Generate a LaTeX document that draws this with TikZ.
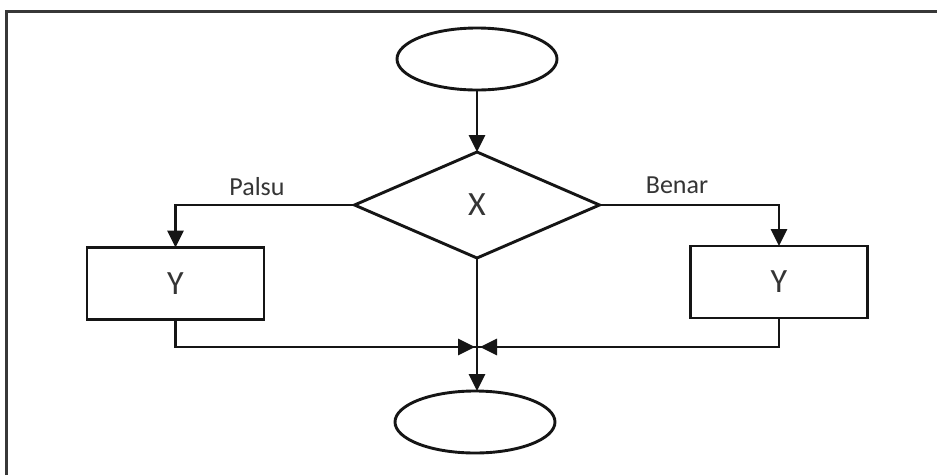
\documentclass[tikz,border=0pt]{standalone}
\usepackage{fontspec}
\setmainfont{Carlito}
\usetikzlibrary{shapes.geometric,arrows.meta}
\definecolor{ink}{HTML}{151515}
\definecolor{txt}{HTML}{353535}
\begin{document}
\begin{tikzpicture}[x=1pt,y=-1pt,
  every node/.style={inner sep=0pt,outer sep=0pt},
  flowline/.style={draw=ink,line width=2.9pt},
  flowarrow/.style={flowline,-{Triangle[length=17pt,width=16pt]}},
  terminal/.style={ellipse,draw=ink,line width=2.9pt,minimum width=160pt,minimum height=62pt},
  decision/.style={diamond,draw=ink,line width=2.9pt,minimum width=245pt,minimum height=106pt,font=\fontsize{34}{34}\selectfont,text=txt},
  process/.style={rectangle,draw=ink,line width=2.9pt,minimum width=177pt,minimum height=72pt,font=\fontsize{34}{34}\selectfont,text=txt},
  branchlabel/.style={font=\fontsize{26}{26}\selectfont,text=txt}]
  % canvas and frame
  \fill[white] (0,0) rectangle (937,475);
  \useasboundingbox (0,0) rectangle (937,475);
  \draw[draw=ink!85,line width=2.4pt] (6.5,475) -- (6.5,11.5) -- (937,11.5);

  % nodes
  \node[terminal] (start) at (477,59) {};
  \node[decision] (x) at (477,205) {X};
  \node[process] (yl) at (175.5,283.5) {Y};
  \node[process] (yr) at (779,282) {Y};
  \node[terminal] (end) at (475,422) {};
  \coordinate (m) at (477,347);
  \coordinate (ml) at (475,347);
  \coordinate (mr) at (480,347);

  % connectors
  \draw[flowarrow] (start) -- (x.north);
  \draw[flowarrow] (x.west) -| (yl.north);
  \draw[flowarrow] (x.east) -| (yr.north);
  \draw[flowline] (yl.south) |- (m);
  \draw[flowline] (yr.south) |- (m);
  \draw[flowarrow] (yl.south |- m) -- (ml);
  \draw[flowarrow] (yr.south |- m) -- (mr);
  \draw[flowarrow] (x.south) -- (end.north -| x.south);

  % branch labels
  \node[branchlabel] (palsu) at (257,187) {Palsu};
  \node[branchlabel] (benar) at (677,185) {Benar};
\end{tikzpicture}
\end{document}
